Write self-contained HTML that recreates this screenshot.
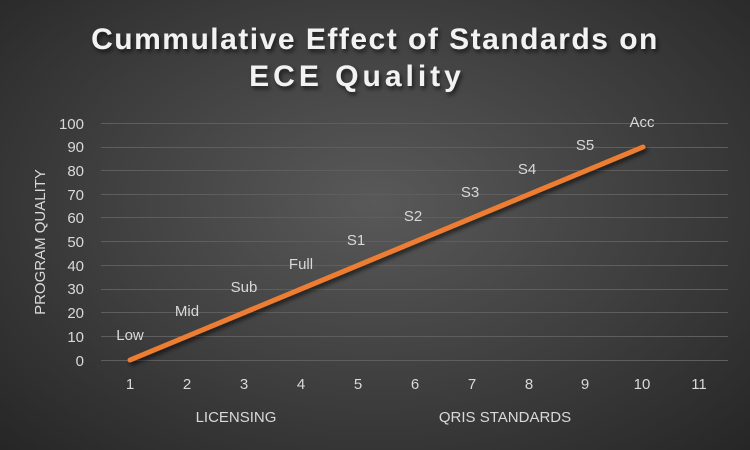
<!DOCTYPE html>
<html><head><meta charset="utf-8"><style>
html,body{margin:0;padding:0;}
body{width:750px;height:450px;overflow:hidden;background:radial-gradient(ellipse at 50% 45%,#595959 0%,#404040 50%,#262626 100%);font-family:"Liberation Sans",sans-serif;}
</style></head><body>
<svg width="750" height="450" xmlns="http://www.w3.org/2000/svg" style="position:absolute;left:0;top:0">
<defs>
<filter id="sh" x="-20%" y="-20%" width="140%" height="140%"><feDropShadow dx="2" dy="3" stdDeviation="2" flood-color="#000" flood-opacity="0.6"/></filter>
</defs>
<g font-family="Liberation Sans, sans-serif" font-weight="bold" font-size="30" fill="#f2f2f2" text-anchor="middle" filter="url(#sh)">
<text x="375" y="49" letter-spacing="1.5">Cummulative Effect of Standards on</text>
<text x="357" y="86" letter-spacing="4">ECE Quality</text>
</g>
<g stroke="#5e5e5e" stroke-width="1">
<line x1="101" x2="728" y1="123.5" y2="123.5"/><line x1="101" x2="728" y1="147.5" y2="147.5"/>
<line x1="101" x2="728" y1="170.5" y2="170.5"/><line x1="101" x2="728" y1="194.5" y2="194.5"/>
<line x1="101" x2="728" y1="217.5" y2="217.5"/><line x1="101" x2="728" y1="241.5" y2="241.5"/>
<line x1="101" x2="728" y1="265.5" y2="265.5"/><line x1="101" x2="728" y1="289.5" y2="289.5"/>
<line x1="101" x2="728" y1="312.5" y2="312.5"/><line x1="101" x2="728" y1="336.5" y2="336.5"/>
<line x1="101" x2="728" y1="360.5" y2="360.5"/>
</g>
<g font-size="15" fill="#d9d9d9" text-anchor="end">
<text x="84" y="129">100</text><text x="84" y="152">90</text><text x="84" y="176">80</text>
<text x="84" y="200">70</text><text x="84" y="223">60</text><text x="84" y="247">50</text>
<text x="84" y="271">40</text><text x="84" y="294">30</text><text x="84" y="318">20</text>
<text x="84" y="342">10</text><text x="84" y="366">0</text>
</g>
<g font-size="15" fill="#d9d9d9" text-anchor="middle">
<text x="130" y="389">1</text><text x="187" y="389">2</text><text x="244" y="389">3</text>
<text x="301" y="389">4</text><text x="358" y="389">5</text><text x="415" y="389">6</text>
<text x="472" y="389">7</text><text x="529" y="389">8</text><text x="585" y="389">9</text>
<text x="642" y="389">10</text><text x="699" y="389">11</text>
<text x="236" y="422" font-size="15">LICENSING</text>
<text x="505" y="422" font-size="15">QRIS STANDARDS</text>
<text transform="translate(45,242) rotate(-90)" font-size="15">PROGRAM QUALITY</text>
</g>
<line x1="130" y1="360" x2="643" y2="147" stroke="#ed7d31" stroke-width="5" stroke-linecap="round" filter="url(#sh)"/>
<g font-size="15" fill="#d9d9d9" text-anchor="middle">
<text x="130" y="340">Low</text><text x="187" y="316">Mid</text><text x="244" y="292">Sub</text>
<text x="301" y="269">Full</text><text x="356" y="245">S1</text><text x="413" y="221">S2</text>
<text x="470" y="197">S3</text><text x="527" y="174">S4</text><text x="585" y="150">S5</text>
<text x="642" y="127">Acc</text>
</g>
</svg>
</body></html>
